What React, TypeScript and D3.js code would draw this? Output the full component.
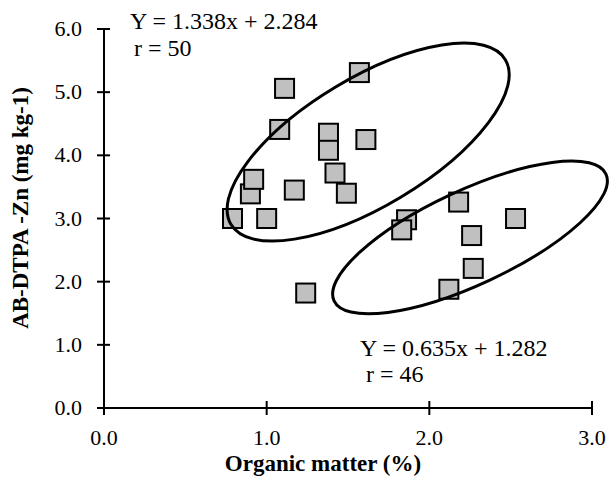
import React from 'react';
import * as d3 from 'd3';

// organic matter (%) vs AB-DTPA Zn (mg kg-1)
const organicMatter = [0.79, 0.90, 0.92, 1.00, 1.17, 1.08, 1.11, 1.57, 1.38, 1.38, 1.61, 1.42, 1.49, 1.86, 1.83, 2.18, 2.53, 2.26, 2.27, 2.12, 1.24];
const zinc = [3.00, 3.39, 3.62, 3.00, 3.45, 4.41, 5.06, 5.31, 4.35, 4.08, 4.25, 3.72, 3.40, 2.98, 2.82, 3.26, 3.00, 2.73, 2.21, 1.88, 1.82];

const xTicks = [0, 1, 2, 3];
const yTicks = [0, 1, 2, 3, 4, 5, 6];

const groupCentersX = [1.624, 2.25];
const groupCentersY = [4.21, 2.70];
const equations = ['Y = 1.338x + 2.284', 'Y = 0.635x + 1.282'];
const rValues = ['r = 50', 'r = 46'];

const W = 610;
const H = 479;
const margin = { left: 104, right: 18, top: 29, bottom: 71 };

export default function App() {
  const x = d3.scaleLinear().domain([0, 3]).range([margin.left, W - margin.right]);
  const y = d3.scaleLinear().domain([0, 6]).range([H - margin.bottom, margin.top]);
  const size = 19;
  const font = '"Liberation Serif", "Times New Roman", serif';

  // ellipse sizes/rotation in px
  const ell = [
    { rx: 160, ry: 64, rot: -31 },
    { rx: 150, ry: 47, rot: -25 },
  ];

  return (
    <svg width={W} height={H} style={{ position: 'absolute', left: 0, top: 0, background: '#fff' }}>
      {/* axes */}
      <line x1={x(0)} x2={x(3)} y1={y(0)} y2={y(0)} stroke="#000" strokeWidth={2} />
      <line x1={x(0)} x2={x(0)} y1={y(0)} y2={y(6)} stroke="#000" strokeWidth={2} />
      {xTicks.map((t) => (
        <g key={'x' + t}>
          <line x1={x(t)} x2={x(t)} y1={y(0) - 7} y2={y(0) + 7} stroke="#000" strokeWidth={2} />
          <text x={x(t)} y={y(0) + 37} textAnchor="middle" fontFamily={font} fontSize={22}>
            {d3.format('.1f')(t)}
          </text>
        </g>
      ))}
      {yTicks.map((t) => (
        <g key={'y' + t}>
          <line x1={x(0) - 7} x2={x(0) + 6} y1={y(t)} y2={y(t)} stroke="#000" strokeWidth={2} />
          <text x={x(0) - 22} y={y(t) + 7} textAnchor="end" fontFamily={font} fontSize={22}>
            {d3.format('.1f')(t)}
          </text>
        </g>
      ))}

      {/* points */}
      {organicMatter.map((v, i) => (
        <rect key={i} x={x(v) - size / 2} y={y(zinc[i]) - size / 2} width={size} height={size}
          fill="#c0c0c0" stroke="#000" strokeWidth={2} />
      ))}

      {/* group ellipses */}
      {groupCentersX.map((cx, i) => (
        <ellipse key={'e' + i} cx={0} cy={0} rx={ell[i].rx} ry={ell[i].ry}
          transform={`translate(${x(cx)},${y(groupCentersY[i])}) rotate(${ell[i].rot})`}
          fill="none" stroke="#000" strokeWidth={3} />
      ))}

      {/* equations */}
      <text x={130} y={29} fontFamily={font} fontSize={24}>{equations[0]}</text>
      <text x={134} y={56} fontFamily={font} fontSize={24}>{rValues[0]}</text>
      <text x={360} y={356} fontFamily={font} fontSize={24}>{equations[1]}</text>
      <text x={366} y={382} fontFamily={font} fontSize={24}>{rValues[1]}</text>

      {/* titles */}
      <text x={323} y={471} textAnchor="middle" fontFamily={font} fontSize={23} fontWeight="bold">
        Organic matter (%)
      </text>
      <text transform="translate(28,208) rotate(-90)" textAnchor="middle"
        fontFamily={font} fontSize={23} fontWeight="bold">
        AB-DTPA -Zn (mg kg-1)
      </text>
    </svg>
  );
}
